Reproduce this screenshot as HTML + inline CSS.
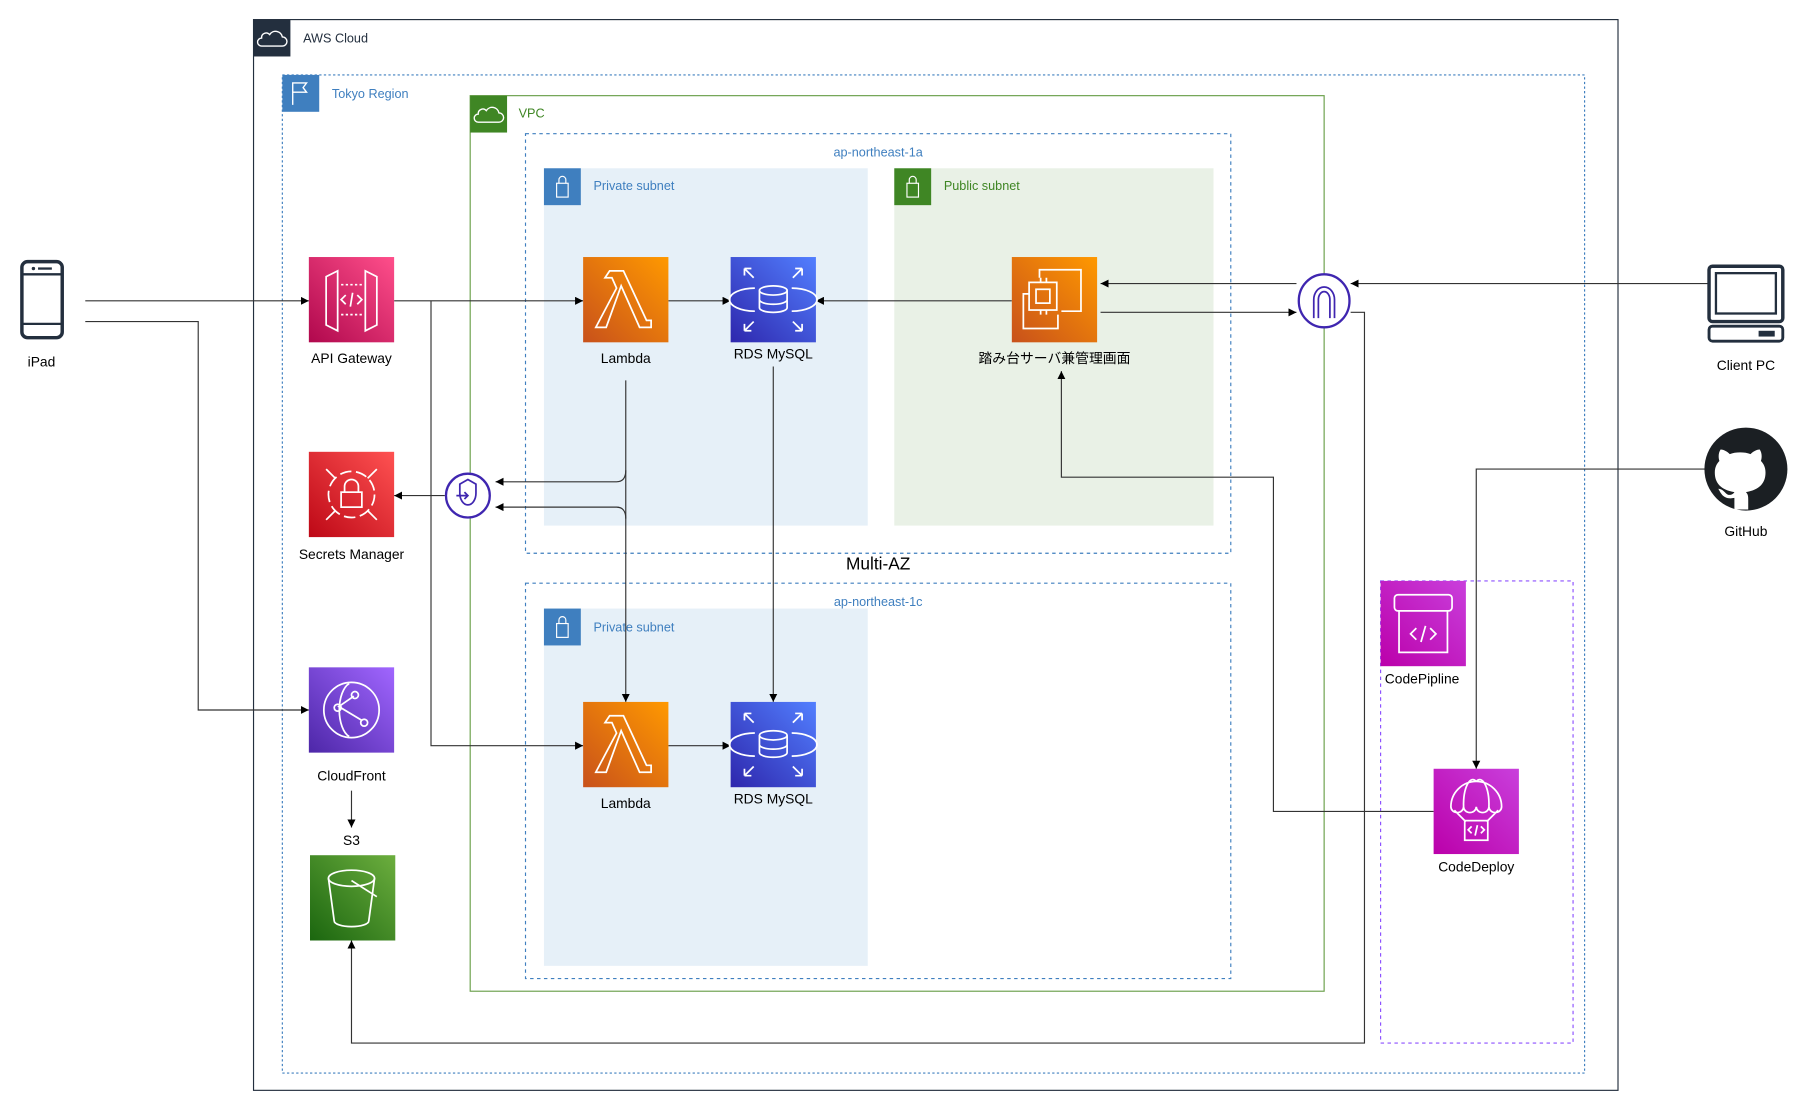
<!DOCTYPE html>
<html><head><meta charset="utf-8"><style>
html,body{margin:0;padding:0;background:#fff;}
svg{display:block;}
text{font-family:"Liberation Sans","Noto Sans CJK JP",sans-serif;}
</style></head><body>
<svg width="1807" height="1118" viewBox="0 0 1568 970" preserveAspectRatio="none" xmlns="http://www.w3.org/2000/svg">
<defs>
<marker id="a" viewBox="0 0 10 10" refX="10" refY="5" markerWidth="7" markerHeight="7" orient="auto-start-reverse"><path d="M0,0 L10,5 L0,10 z" fill="#000"/></marker>
<linearGradient id="gPink" x1="0" y1="1" x2="1" y2="0"><stop offset="0" stop-color="#b0084d"/><stop offset="1" stop-color="#ff4f8b"/></linearGradient>
<linearGradient id="gOr" x1="0" y1="1" x2="1" y2="0"><stop offset="0" stop-color="#c8511b"/><stop offset="1" stop-color="#ff9900"/></linearGradient>
<linearGradient id="gBl" x1="0" y1="1" x2="1" y2="0"><stop offset="0" stop-color="#2e27ad"/><stop offset="1" stop-color="#527fff"/></linearGradient>
<linearGradient id="gRed" x1="0" y1="1" x2="1" y2="0"><stop offset="0" stop-color="#bd0816"/><stop offset="1" stop-color="#ff5252"/></linearGradient>
<linearGradient id="gPur" x1="0" y1="1" x2="1" y2="0"><stop offset="0" stop-color="#4d27a8"/><stop offset="1" stop-color="#a166ff"/></linearGradient>
<linearGradient id="gGr" x1="0" y1="1" x2="1" y2="0"><stop offset="0" stop-color="#1b660f"/><stop offset="1" stop-color="#6cae3e"/></linearGradient>
<linearGradient id="gMag" x1="0" y1="1" x2="1" y2="0"><stop offset="0" stop-color="#b0a"/><stop offset="1" stop-color="#c93fdc"/></linearGradient>
</defs>

<!-- AWS Cloud -->
<rect x="220" y="17" width="1184" height="929" fill="none" stroke="#232f3e" stroke-width="1"/>
<rect x="220" y="17" width="32" height="32" fill="#232f3e"/>
<path d="M227,40 h18 a4,4 0 0 0 0-8 a6,6 0 0 0 -11-2 a4,4 0 0 0 -7,3 a3.5,3.5 0 0 0 0,7z" fill="none" stroke="#fff" stroke-width="1.2"/>
<text x="263" y="37" font-size="11" fill="#232f3e">AWS Cloud</text>

<!-- Tokyo region -->
<rect x="245" y="65" width="1130" height="866" fill="none" stroke="#3f7fbf" stroke-width="1" stroke-dasharray="2,2"/>
<rect x="245" y="65" width="32" height="32" fill="#3f7fbf"/>
<path d="M254,91 V72 h12 l-3,4 l3,4 h-12" fill="none" stroke="#fff" stroke-width="1.2"/>
<text x="288" y="85" font-size="11" fill="#3f7fbf">Tokyo Region</text>

<!-- VPC -->
<rect x="408" y="83" width="741" height="777" fill="none" stroke="#7aa116" stroke-width="1" style="stroke:#6a9f4a"/>
<rect x="408" y="83" width="32" height="32" fill="#3f8624"/>
<path d="M415,106 h18 a4,4 0 0 0 0-8 a6,6 0 0 0 -11-2 a4,4 0 0 0 -7,3 a3.5,3.5 0 0 0 0,7z" fill="none" stroke="#fff" stroke-width="1.2"/>
<text x="450" y="102" font-size="11" fill="#3f8624">VPC</text>

<!-- AZ 1a -->
<rect x="456" y="116" width="612" height="364" fill="none" stroke="#3f7fbf" stroke-width="1" stroke-dasharray="3,3"/>
<text x="762" y="136" font-size="11" fill="#3f7fbf" text-anchor="middle">ap-northeast-1a</text>
<rect x="472" y="146" width="281" height="310" fill="#e6f0f8"/>
<rect x="472" y="146" width="32" height="32" fill="#3f7fbf"/>
<rect x="483" y="159" width="10" height="12" fill="none" stroke="#fff"/><path d="M485,159 v-3 a3,3 0 0 1 6,0 v3" fill="none" stroke="#fff"/>
<text x="515" y="165" font-size="11" fill="#3f7fbf">Private subnet</text>
<rect x="776" y="146" width="277" height="310" fill="#e9f1e6"/>
<rect x="776" y="146" width="32" height="32" fill="#3f8624"/>
<rect x="787" y="159" width="10" height="12" fill="none" stroke="#fff"/><path d="M789,159 v-3 a3,3 0 0 1 6,0 v3" fill="none" stroke="#fff"/>
<text x="819" y="165" font-size="11" fill="#3f8624">Public subnet</text>

<text x="762" y="494" font-size="15" fill="#000" text-anchor="middle">Multi-AZ</text>

<!-- AZ 1c -->
<rect x="456" y="506" width="612" height="343" fill="none" stroke="#3f7fbf" stroke-width="1" stroke-dasharray="3,3"/>
<rect x="472" y="528" width="281" height="310" fill="#e6f0f8"/>
<text x="762" y="526" font-size="11" fill="#3f7fbf" text-anchor="middle">ap-northeast-1c</text>
<rect x="472" y="528" width="32" height="32" fill="#3f7fbf"/>
<rect x="483" y="541" width="10" height="12" fill="none" stroke="#fff"/><path d="M485,541 v-3 a3,3 0 0 1 6,0 v3" fill="none" stroke="#fff"/>
<text x="515" y="548" font-size="11" fill="#3f7fbf">Private subnet</text>

<!-- CI/CD dashed box -->
<rect x="1198" y="504" width="167" height="401" fill="none" stroke="#8c4fff" stroke-width="1" stroke-dasharray="3,3"/>

<!-- Connectors -->
<g fill="none" stroke="#333" stroke-width="1">
<path d="M74,261 H268" marker-end="url(#a)"/>
<path d="M74,279 H172 V616 H268" marker-end="url(#a)"/>
<path d="M342,261 H506" marker-end="url(#a)"/>
<path d="M374,261 V647 H506" marker-end="url(#a)"/>
<path d="M580,261 H634" marker-end="url(#a)"/>
<path d="M878,261 H708" marker-end="url(#a)"/>
<path d="M1125,246 H955" marker-end="url(#a)"/>
<path d="M955,271 H1125" marker-end="url(#a)"/>
<path d="M1482,246 H1172" marker-end="url(#a)"/>
<path d="M543,330 V609" marker-end="url(#a)"/>
<path d="M543,408 Q543,418 535,418 H430" marker-end="url(#a)"/>
<path d="M543,450 Q543,440 535,440 H430" marker-end="url(#a)"/>
<path d="M386,430 H342" marker-end="url(#a)"/>
<path d="M671,318 V609" marker-end="url(#a)"/>
<path d="M580,647 H634" marker-end="url(#a)"/>
<path d="M305,686 V718" marker-end="url(#a)"/>
<path d="M1172,271 H1184 V905 H305 V816" marker-end="url(#a)"/>
<path d="M1480,407 H1281 V667" marker-end="url(#a)"/>
<path d="M1244,704 H1105 V414 H921 V322" marker-end="url(#a)"/>
</g>

<!-- API Gateway -->
<rect x="268" y="223" width="74" height="74" fill="url(#gPink)"/>
<g fill="none" stroke="#fff" stroke-width="1.5"><path d="M283,240 l10,-5 v52 l-10,-5z"/><path d="M327,240 l-10,-5 v52 l10,-5z"/><path d="M296,247 h18 M296,273 h18" stroke-dasharray="2,2"/><path d="M300,256 l-4,4 l4,4 M310,256 l4,4 l-4,4 M306,254 l-2,12"/></g>
<text x="305" y="315" font-size="12" text-anchor="middle">API Gateway</text>

<!-- Lambda 1 -->
<rect x="506" y="223" width="74" height="74" fill="url(#gOr)"/>
<path d="M529,235 h12 l20,43 h4 v6 h-10 l-16,-36 l-13,36 h-9 l18,-34 l-4,-9 h-6z" fill="none" stroke="#fff" stroke-width="1.5"/>
<text x="543" y="315" font-size="12" text-anchor="middle">Lambda</text>
<!-- RDS 1 -->
<rect x="634" y="223" width="74" height="74" fill="url(#gBl)"/>
<g fill="none" stroke="#fff" stroke-width="1.5"><ellipse cx="671" cy="252" rx="12" ry="4"/><path d="M659,252 v15 a12,4 0 0 0 24,0 v-15 M659,260 a12,4 0 0 0 24,0"/><path d="M655,250 a22,10 0 0 0 0,20 M687,250 a22,10 0 0 1 0,20"/><path d="M646,233 l8,8 M646,233 v6 M646,233 h6 M696,233 l-8,8 M696,233 v6 M696,233 h-6 M646,287 l8,-8 M646,287 v-6 M646,287 h6 M696,287 l-8,-8 M696,287 v-6 M696,287 h-6"/></g>
<text x="671" y="311" font-size="12" text-anchor="middle">RDS MySQL</text>

<!-- EC2 -->
<rect x="878" y="223" width="74" height="74" fill="url(#gOr)"/>
<g fill="none" stroke="#fff" stroke-width="1.5"><rect x="893" y="245" width="24" height="24"/><rect x="899" y="251" width="12" height="12"/><path d="M903,245 v-4 M908,245 v-4 M903,269 v4 M908,269 v4"/><path d="M902,241 v-7 h36 v36 h-17"/><path d="M893,255 h-5 v30 h30 v-12"/></g>
<text x="915" y="315" font-size="12" text-anchor="middle">踏み台サーバ兼管理画面</text>

<!-- Secrets Manager -->
<rect x="268" y="392" width="74" height="74" fill="url(#gRed)"/>
<g fill="none" stroke="#fff" stroke-width="1.5"><circle cx="305" cy="429" r="20" stroke-dasharray="10,4"/><rect x="296" y="427" width="18" height="13"/><path d="M299,427 v-5 a6,6 0 0 1 12,0 v5"/><path d="M283,407 l8,8 M327,407 l-8,8 M283,451 l8,-8 M327,451 l-8,-8"/></g>
<text x="305" y="485" font-size="12" text-anchor="middle">Secrets Manager</text>

<!-- VPC endpoint -->
<circle cx="406" cy="430" r="19" fill="#fff" stroke="#3f26b0" stroke-width="2"/>
<path d="M399,420 l7,-4 l7,4 v8 a7,10 0 0 1 -7,10 a7,10 0 0 1 -7,-10z M396,430 h10 M403,427 l3,3 l-3,3" fill="none" stroke="#3f26b0" stroke-width="1.5"/>

<!-- IGW -->
<ellipse cx="1149" cy="261" rx="22" ry="23" fill="#fff" stroke="#3f26b0" stroke-width="2"/>
<path d="M1140,276 v-16 a9,11 0 0 1 18,0 v16 M1144,276 v-16 a5,7 0 0 1 10,0 v16" fill="none" stroke="#3f26b0" stroke-width="1.5"/>

<!-- CloudFront -->
<rect x="268" y="579" width="74" height="74" fill="url(#gPur)"/>
<g fill="none" stroke="#fff" stroke-width="1.5"><circle cx="305" cy="616" r="24"/><path d="M303,593 a12,24 0 0 0 0,46 M307,604 l-13,9 l20,12"/><circle cx="308" cy="603" r="3"/><circle cx="293" cy="614" r="3"/><circle cx="316" cy="627" r="3"/></g>
<text x="305" y="677" font-size="12" text-anchor="middle">CloudFront</text>
<text x="305" y="733" font-size="12" text-anchor="middle">S3</text>

<!-- S3 -->
<rect x="269" y="742" width="74" height="74" fill="url(#gGr)"/>
<g fill="none" stroke="#fff" stroke-width="1.5"><ellipse cx="305" cy="762" rx="20" ry="7"/><path d="M285,762 l5,37 a15,5 0 0 0 30,0 l5,-37"/><path d="M305,764 l22,14"/></g>

<!-- Lambda 2 -->
<rect x="506" y="609" width="74" height="74" fill="url(#gOr)"/>
<path d="M529,621 h12 l20,43 h4 v6 h-10 l-16,-36 l-13,36 h-9 l18,-34 l-4,-9 h-6z" fill="none" stroke="#fff" stroke-width="1.5"/>
<text x="543" y="701" font-size="12" text-anchor="middle">Lambda</text>
<!-- RDS 2 -->
<rect x="634" y="609" width="74" height="74" fill="url(#gBl)"/>
<g fill="none" stroke="#fff" stroke-width="1.5"><ellipse cx="671" cy="638" rx="12" ry="4"/><path d="M659,638 v15 a12,4 0 0 0 24,0 v-15 M659,646 a12,4 0 0 0 24,0"/><path d="M655,636 a22,10 0 0 0 0,20 M687,636 a22,10 0 0 1 0,20"/><path d="M646,619 l8,8 M646,619 v6 M646,619 h6 M696,619 l-8,8 M696,619 v6 M696,619 h-6 M646,673 l8,-8 M646,673 v-6 M646,673 h6 M696,673 l-8,-8 M696,673 v-6 M696,673 h-6"/></g>
<text x="671" y="697" font-size="12" text-anchor="middle">RDS MySQL</text>

<!-- CodePipeline -->
<rect x="1198" y="504" width="74" height="74" fill="url(#gMag)"/>
<g fill="none" stroke="#fff" stroke-width="1.5"><rect x="1210" y="516" width="50" height="14" rx="3"/><path d="M1214,530 v36 h42 v-36"/><path d="M1229,545 l-5,5 l5,5 M1241,545 l5,5 l-5,5 M1237,543 l-4,14"/></g>
<text x="1234" y="593" font-size="12" text-anchor="middle">CodePipline</text>

<!-- CodeDeploy -->
<rect x="1244" y="667" width="74" height="74" fill="url(#gMag)"/>
<g fill="none" stroke="#fff" stroke-width="1.5"><path d="M1259,700 a22,22 0 0 1 44,0 M1259,700 a5.5,5 0 0 0 11,0 a5.5,5 0 0 0 11,0 a5.5,5 0 0 0 11,0 a5.5,5 0 0 0 11,0 M1281,678 a8,22 0 0 0 -11,22 M1281,678 a8,22 0 0 1 11,22 M1262,703 l10,10 M1300,703 l-10,10"/><rect x="1271" y="712" width="20" height="17"/><path d="M1277,717 l-3,3 l3,3 M1285,717 l3,3 l-3,3 M1282,716 l-2,9"/></g>
<text x="1281" y="756" font-size="12" text-anchor="middle">CodeDeploy</text>

<!-- iPad -->
<rect x="19" y="227" width="35" height="66" rx="5" fill="none" stroke="#232f3e" stroke-width="3"/>
<path d="M20,238 h33 M20,281 h33" stroke="#232f3e" stroke-width="2"/>
<circle cx="29" cy="233" r="1.5" fill="#232f3e"/><path d="M33,233 h12" stroke="#232f3e" stroke-width="2"/>
<text x="36" y="318" font-size="12" text-anchor="middle">iPad</text>

<!-- Client PC -->
<rect x="1483" y="231" width="64" height="48" rx="3" fill="none" stroke="#232f3e" stroke-width="3"/>
<rect x="1489" y="237" width="52" height="35" fill="none" stroke="#232f3e" stroke-width="2"/>
<rect x="1483" y="283" width="64" height="13" rx="3" fill="none" stroke="#232f3e" stroke-width="2.5"/>
<rect x="1526" y="287" width="14" height="5" fill="#232f3e"/>
<text x="1515" y="321" font-size="12" text-anchor="middle">Client PC</text>

<!-- GitHub -->
<circle cx="1515" cy="407" r="36" fill="#1b1f23"/>
<path d="M1505,442 v-10 c-10,2 -12,-5 -14,-8 c4,0 6,4 8,5 c2,1 5,0 6,-2 c-12,-2 -17,-8 -17,-17 c0,-5 2,-8 4,-10 c-1,-3 -1,-7 1,-10 c3,0 6,2 8,4 c5,-2 13,-2 18,0 c2,-2 5,-4 8,-4 c2,3 2,7 1,10 c2,2 4,5 4,10 c0,9 -5,15 -17,17 c2,2 2,4 2,7 v8z" fill="#fff"/>
<text x="1515" y="465" font-size="12" text-anchor="middle">GitHub</text>
</svg>
</body></html>
